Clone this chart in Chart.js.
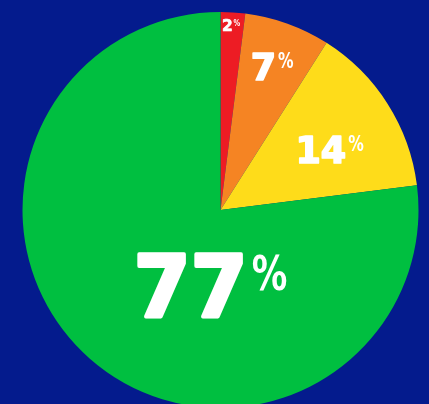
<!DOCTYPE html>
<html>
<head>
<meta charset="utf-8">
<script src="https://cdn.jsdelivr.net/npm/chart.js@4"></script>
<style>
  html, body { margin: 0; padding: 0; background: #041b8d; overflow: hidden; }
  #wrap { width: 429px; height: 404px; overflow: hidden; }
</style>
</head>
<body>
<div id="wrap"><canvas id="pie" width="429" height="420"></canvas></div>
<script>
// slice data, clockwise from the top
const categories = ["Red", "Orange", "Yellow", "Green"];
const shares = [2, 7, 14, 77];
const sliceColors = ["#ed1c24", "#f58423", "#fedc1a", "#00bf40"];

// where each label sits: angle from top (deg, clockwise), fraction of radius, digit size
const labelSpots = [
  { angle: 3.3, dist: 0.935, size: 16 },
  { angle: 19.8, dist: 0.77, size: 38 },
  { angle: 61, dist: 0.63, size: 38 },
  { angle: 187.5, dist: 0.385, size: 85 }
];

// draws "NN%" with a small, narrow percent sign on top of each slice
const percentLabels = {
  id: "percentLabels",
  afterDatasetsDraw(chart) {
    const ctx = chart.ctx;
    const arcs = chart.getDatasetMeta(0).data;
    arcs.forEach((arc, i) => {
      const spot = labelSpots[i];
      const a = spot.angle * Math.PI / 180;
      const r = arc.outerRadius * spot.dist;
      const cx = arc.x + Math.sin(a) * r;
      const cy = arc.y - Math.cos(a) * r;
      const big = spot.size;
      const small = Math.round(big * 0.56);
      const squeeze = 0.74;
      const digits = String(shares[i]);

      ctx.save();
      ctx.fillStyle = "#ffffff";
      ctx.textBaseline = "alphabetic";
      ctx.textAlign = "left";
      ctx.font = "bold " + big + "px 'DejaVu Sans'";
      const wd = ctx.measureText(digits).width * 0.96;
      ctx.font = "bold " + small + "px 'DejaVu Sans'";
      const wp = ctx.measureText("%").width * squeeze;
      const gap = big * 0.05;
      const total = wd + gap + wp;
      const capH = big * 0.73;
      const baseline = cy + capH / 2;
      const x0 = cx - total / 2;

      // digits, a little condensed and thickened
      ctx.save();
      ctx.translate(x0, baseline);
      ctx.scale(0.96, 1);
      ctx.font = "bold " + big + "px 'DejaVu Sans'";
      ctx.lineWidth = big * 0.045;
      ctx.strokeStyle = "#ffffff";
      ctx.lineJoin = "round";
      ctx.strokeText(digits, 0, 0);
      ctx.fillText(digits, 0, 0);
      ctx.restore();

      // percent sign, top aligned with the digits
      ctx.save();
      ctx.translate(x0 + wd + gap, baseline - capH + small * 0.74);
      ctx.scale(squeeze, 1);
      ctx.font = "bold " + small + "px 'DejaVu Sans'";
      ctx.fillText("%", 0, 0);
      ctx.restore();

      ctx.restore();
    });
  }
};

new Chart(document.getElementById("pie"), {
  type: "pie",
  data: {
    labels: categories,
    datasets: [{
      data: shares,
      backgroundColor: sliceColors,
      borderWidth: 0
    }]
  },
  options: {
    responsive: false,
    animation: false,
    devicePixelRatio: 1,
    layout: { padding: { left: 22.5, right: 10.5, top: 12, bottom: 12 } },
    plugins: {
      legend: { display: false },
      tooltip: { enabled: false }
    }
  },
  plugins: [percentLabels]
});
</script>
</body>
</html>
